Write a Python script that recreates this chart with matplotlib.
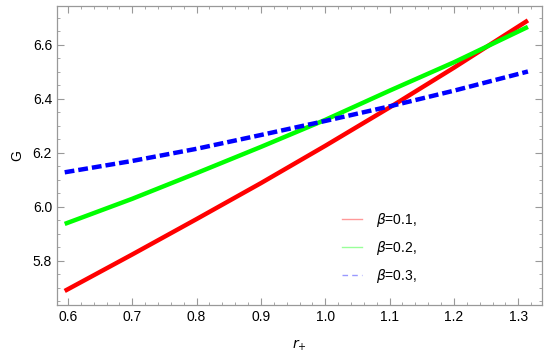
import numpy as np
import matplotlib.pyplot as plt
from matplotlib.lines import Line2D
from matplotlib.ticker import MultipleLocator

plt.rcParams['font.family'] = ['Liberation Sans', 'DejaVu Sans']

# values
r = [0.595, 0.7, 0.8, 0.9, 1.0, 1.1, 1.2, 1.315]
g_01 = [5.689, 5.824, 5.955, 6.088, 6.226, 6.368, 6.515, 6.69]
g_02 = [5.937, 6.03, 6.125, 6.222, 6.322, 6.43, 6.535, 6.666]
g_03 = [6.128, 6.17, 6.215, 6.266, 6.318, 6.372, 6.43, 6.501]
labels = [r'$\beta$=0.1,', r'$\beta$=0.2,', r'$\beta$=0.3,']

fig = plt.figure(figsize=(5.5, 3.52), dpi=100)
ax = fig.add_axes([0.1036, 0.1335, 0.882, 0.85])

ax.plot(r, g_01, color='#ff0000', lw=3.2, solid_capstyle='butt')
ax.plot(r, g_02, color='#00ff00', lw=3.2, solid_capstyle='butt')
ax.plot(r, g_03, color='#0000ff', lw=3.2, dashes=(2.2, 0.9))

ax.set_xlim(0.583, 1.337)
ax.set_ylim(5.637, 6.744)
ax.xaxis.set_major_locator(MultipleLocator(0.1))
ax.xaxis.set_minor_locator(MultipleLocator(0.02))
ax.yaxis.set_major_locator(MultipleLocator(0.2))
ax.yaxis.set_minor_locator(MultipleLocator(0.05))
ax.tick_params(which='both', direction='in', top=True, right=True,
               color='#999999', labelsize=10, labelcolor='black')
ax.tick_params(which='major', length=5, width=0.8)
ax.tick_params(which='minor', length=2.5, width=0.6)
for s in ax.spines.values():
    s.set_color('#999999')
    s.set_linewidth(0.9)

ax.set_ylabel('G', fontsize=10, labelpad=6)
ax.set_xlabel(r'$r_{+}$', fontsize=10, labelpad=10)

handles = [Line2D([], [], color='#ff0000', lw=1, alpha=0.4),
           Line2D([], [], color='#00ff00', lw=1, alpha=0.4),
           Line2D([], [], color='#0000ff', lw=1, alpha=0.4, dashes=(4, 3))]
ax.legend(handles, labels, loc='upper left', bbox_to_anchor=(0.588, 0.314),
          frameon=False, fontsize=10, handlelength=1.45, handletextpad=0.95,
          labelspacing=0.7, borderpad=0, borderaxespad=0)

fig.savefig('out.png', dpi=100)
